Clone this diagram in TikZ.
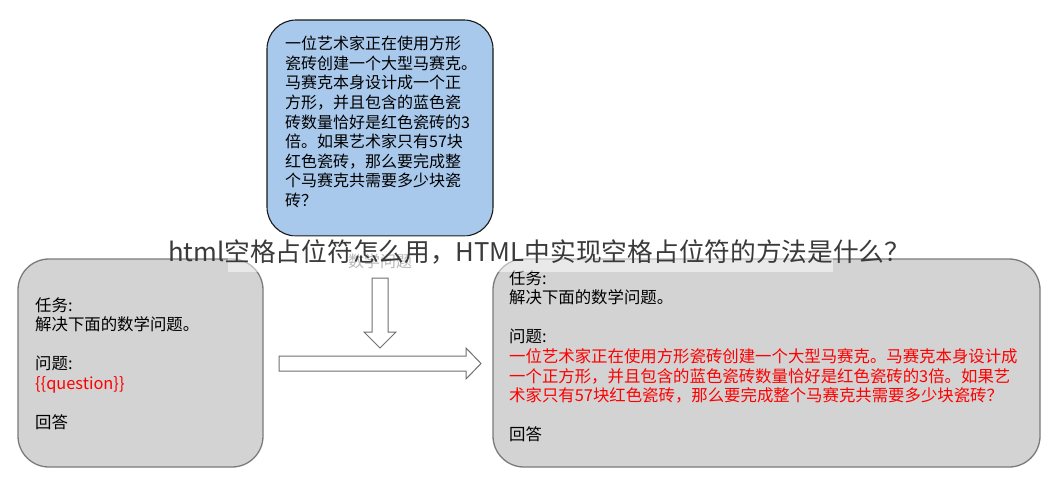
\documentclass[tikz,border=0pt]{standalone}
\usepackage{fontspec}
\setmainfont{Noto Sans CJK SC}
\definecolor{bluefill}{HTML}{A9C9EC}
\definecolor{greyfill}{HTML}{D3D3D3}
\definecolor{greyline}{HTML}{7A7A7A}
\definecolor{arrowline}{HTML}{707070}
\definecolor{titlecol}{HTML}{3A3A3A}
\begin{document}
\begin{tikzpicture}[x=1pt,y=-1pt,
  bluebox/.style={draw=black!90, line width=1.1pt, fill=bluefill, rounded corners=29pt, inner sep=0pt, outer sep=0pt, anchor=north west},
  greybox/.style={draw=greyline, line width=1.3pt, fill=greyfill, rounded corners=31pt, inner sep=0pt, outer sep=0pt, anchor=north west},
  txt/.style={anchor=north west, inner sep=0pt, align=left, font=\fontsize{16}{19.6}\selectfont},
  gtxt/.style={anchor=north west, inner sep=0pt, align=left, font=\fontsize{16.4}{19.6}\selectfont},
  blockarrow/.style={draw=arrowline, line width=1pt, fill=white},
]
\useasboundingbox (0,0) rectangle (1064,490);
\fill[white] (0,0) rectangle (1064,490);

% boxes
\node[bluebox, minimum width=226pt, minimum height=216pt] (B) at (267,20) {};
\node[greybox, minimum width=245pt, minimum height=208pt] (L) at (18,259) {};
\node[greybox, minimum width=547pt, minimum height=208pt] (R) at (493,259) {};

% blue box text
\node[txt] (Bt) at (285,36) {一位艺术家正在使用方形\\瓷砖创建一个大型马赛克。\\马赛克本身设计成一个正\\方形，并且包含的蓝色瓷\\砖数量恰好是红色瓷砖的3\\倍。如果艺术家只有57块\\红色瓷砖，那么要完成整\\个马赛克共需要多少块瓷\\砖？};

% left box text
\node[gtxt] (Lt) at (35,297) {任务:\\解决下面的数学问题。\\[19.6pt]问题:\\\textcolor{red}{\{\{question\}\}}\\[19.6pt]回答};

% right box text
\node[gtxt] (Rt) at (509,270) {任务:\\解决下面的数学问题。\\[19.6pt]问题:\\\textcolor{red}{一位艺术家正在使用方形瓷砖创建一个大型马赛克。马赛克本身设计成}\\\textcolor{red}{一个正方形，并且包含的蓝色瓷砖数量恰好是红色瓷砖的3倍。如果艺}\\\textcolor{red}{术家只有57块红色瓷砖，那么要完成整个马赛克共需要多少块瓷砖？}\\[19.6pt]回答};

% label
\node[inner sep=0pt, font=\fontsize{16}{16}\selectfont, text=black!55] (lab) at (380,261) {数学问题};

% block arrows
\draw[blockarrow] (372,278) -- (388,278) -- (388,332) -- (396,332) -- (380,348) -- (364,332) -- (372,332) -- cycle;
\draw[blockarrow] (279,356) -- (466,356) -- (466,348) -- (481,363.5) -- (466,379) -- (466,371) -- (279,371) -- cycle;

% overlay band and title
\fill[white, opacity=0.5] (228,236) rectangle (833,272);
\node[anchor=base west, inner sep=0pt, font=\fontsize{25.7}{25.7}\selectfont, text=titlecol] (T) at (168,261) {html空格占位符怎么用，HTML中实现空格占位符的方法是什么？};
\end{tikzpicture}
\end{document}
